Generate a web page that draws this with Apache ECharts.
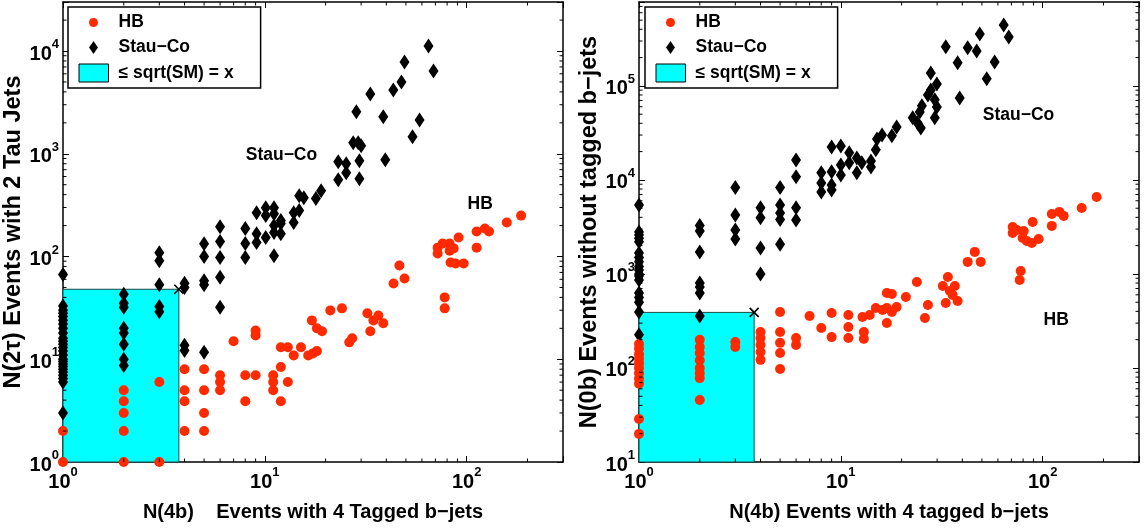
<!DOCTYPE html>
<html><head><meta charset="utf-8">
<script src="https://cdn.jsdelivr.net/npm/echarts@6/dist/echarts.min.js"></script>
<style>html,body{margin:0;padding:0;background:#fff}#c{width:1145px;height:529px}</style>
</head><body><div id="c"></div>
<script>
// ---------- data ----------
const xRange = [1, 300];
const yRangeLeft = [1, 30000];
const yRangeRight = [10, 780000];

const hbLeft = [
  [1,1],[1,2],
  [2,1],[2,2],[2,3],[2,3.9],[2,5],
  [3,1],[3,6],
  [4,2],[4,3.9],[4,5],[4,8],
  [5,2],[5,3],[5,5],[5,8],
  [6,5],[6,6],[6,7],
  [7,15],[8,3.9],[8,7],[9,7],[9,17],[9,19],
  [11,5],[11,6],[11,7],[12,3.9],[12,8.4],[12,13.1],[13,6],[13,13.1],
  [13.9,10.9],[15.1,13.1],[16.4,10.9],[17.3,11.4],[18.1,12],[17.1,23.9],[18.1,20],[19.2,18.7],
  [21.1,29.9],[24.1,31.3],[26.2,14.6],[27.1,16],[32.2,28],[33.3,18.7],[34.5,23.9],[36.5,26.7],[38.6,22.4],
  [43.4,54.7],[46.4,81.8],[49.2,61.1],
  [71.8,107],[71.8,122],[76,134],[82.3,134],[82.3,114],[86.2,120],[91.2,153],[83.2,87.5],[88.2,85.5],[96.6,85.5],
  [77.8,40],[77.8,31.3],[112,175],[112,122],[123,187],[129,175],[158,214],[186,250]
];
const stauLeft = [
  [1,67],[1,33],[1,30],[1,28],[1,26],[1,24],[1,22],[1,20],[1,18],[1,16],[1,15],[1,14],[1,13],[1,12],[1,11],
  [1,10],[1,9.5],[1,9],[1,8.5],[1,8],[1,7.5],[1,7],[1,6.5],[1,6],[1,3],
  [2,43],[2,35],[2,32],[2,20],[2,18],[2,14],[2,10],[2,8.7],
  [3,109],[3,91],[3,53],[3,32.6],[3,29],
  [4,55],[4,50],[4,13.7],[4,12.2],
  [5,133],[5,100],[5,58],[5,53],[5,11.7],
  [6,195],[6,140],[6,98],[6,63],[6,32],
  [8,187],[8,134],[8,98],
  [9.1,267],[9.1,167],[9.1,137],[10.1,299],[10.1,250],[10.1,153],[11.1,299],[11.1,261],[11.1,200],[11.1,171],[11.1,102],
  [12,224],[12,167],[12,209],[13.9,267],[13.9,214],[14.8,391],[14.8,280],[15.6,374],[17.9,366],[19,437],
  [23.1,560],[25.3,654],[29.4,572],[23.1,836],[25.3,800],[29.4,855],[39.5,875],
  [27.4,1279],[29,1279],[30,1196],[53.9,1462],[28.4,2557],[38.6,2287],[58.4,2137],
  [33.3,3826],[43.3,4180],[47.5,5000],[49.2,7816],[64.7,11190],[68.5,6397]
];
const hbRight = [
  [1,180],[1,160],[1,140],[1,125],[1,112],[1,100],[1,88],[1,77],[1,68],[1,28.6],[1,19.9],
  [2,199],[2,167],[2,144],[2,121],[2,100],[2,88],[2,78],[2,45.6],
  [3,189],[3,167],
  [4,241],[4,208],[4,176],[4,148],[4,122],
  [5,394],[5,241],[5,185],[5,144],[5,97.6],
  [6,208],[6,176],[7,357],[8,266],[9,385],[9,213],
  [10.9,366],[10.9,273],[10.9,208],
  [12.8,349],[13.9,366],[13,241],[13,204],[14.9,435],[16.1,414],[16.9,435],[16.9,628],[17.9,613],[17.9,394],
  [18.9,446],[16.9,301],[21,569],[23.8,822],[26.1,340],[27,468],[32,745],[33.9,929],[33.1,491],[34.7,659],
  [36.7,745],[35.8,598],[37.9,516],[42.5,1343],[46.1,1716],[49.3,1343],
  [71,3162],[71,2729],[74.4,2937],[80.5,2866],[79.6,2414],[83.4,2243],[88.3,2137],[89.2,3574],[95.5,2356],
  [77.8,1076],[76.9,863],[111,4345],[111,3243],[121,4570],[127,4143],[156,5036],[185,6592]
];
const stauRight = [
  [1,5420],[1,2800],[1,2600],[1,2400],[1,2200],[1,1670],[1,1500],[1,1350],[1,1200],[1,1100],[1,1000],
  [1,950],[1,860],[1,628],[1,560],[1,500],[1,394],[1,225],
  [2,3270],[2,2860],[2,1716],[2,800],[2,728],[2,628],[2,357],
  [3,8300],[3,4230],[3,2940],[3,2360],
  [4,5050],[4,3960],[4,1890],[4,1000],
  [5,8300],[5,5420],[5,4450],[5,3800],[5,2070],
  [6,16300],[6,10800],[6,5050],[6,3740],
  [8,11900],[8,9290],[8,7450],[9,22400],[9,12200],[9,8850],[9,7830],
  [10,23000],[10,14400],[10,11300],[11,19400],[11,15200],[12,17100],[12,11900],
  [12.7,15200],[14.1,15900],[14.1,13700],[14.9,20900],[15.1,27300],[16,30100],[17.9,29400],[18.9,36600],
  [22.7,45700],[24,40400],[24.9,35700],[24.6,52900],[25.2,61300],[29.2,45700],[29.9,59800],[29.2,71000],
  [27,80200],[27.9,90600],[29.9,105000],[27.9,137000],[38.8,74500],[37.9,176000],[33.1,260000],
  [42.5,254000],[47.1,235000],[48.8,357000],[52.8,119000],[57.8,180000],[64.1,445000],[67.9,332000]
];
const boxLeft = [[1, 1, 3.75, 48]];
const boxRight = [[1, 10, 3.72, 390]];
const annotLeftPos = [[8.04, 978], [101, 320]];
const annotLeftText = ['Stau−Co', 'HB'];
const annotRightPos = [[50.5, 49100], [101, 324]];
const annotRightText = ['Stau−Co', 'HB'];
const seriesNames = ['HB', 'Stau−Co', '≤ sqrt(SM) = x'];
const titles = {
  leftX: 'N(4b)    Events with 4 Tagged b−jets',
  leftY: 'N(2τ) Events with 2 Tau Jets',
  rightX: 'N(4b) Events with 4 tagged b−jets',
  rightY: 'N(0b) Events without tagged b−jets'
};

// ---------- styling ----------
const FF = "'Liberation Sans', Arial, Helvetica, sans-serif";
const RED = '#ff2a00';
const CYAN = '#00ffff';

function minorVals(range) {
  const out = [];
  for (let e = Math.floor(Math.log10(range[0])); e <= Math.ceil(Math.log10(range[1])); e++) {
    for (let m = 2; m <= 9; m++) {
      const v = m * Math.pow(10, e);
      if (v > range[0] * 1.0001 && v < range[1] * 0.9999) out.push(v);
    }
  }
  return out;
}
function minorData(xr, yr) {
  const d = [];
  minorVals(xr).forEach(v => d.push([v, yr[0], 0]));
  minorVals(yr).forEach(v => d.push([xr[0], v, 1]));
  return d;
}
function labelFmt(v) {
  const e = Math.log10(v);
  if (Math.abs(e - Math.round(e)) > 1e-6) return '';
  return '{b|10}{s|' + Math.round(e) + '}';
}
const rich = {
  b: {fontSize: 20, fontWeight: 'bold', fontFamily: FF, color: '#000', verticalAlign: 'bottom', padding: [0, 0, 0, 0]},
  s: {fontSize: 13, fontWeight: 'bold', fontFamily: FF, color: '#000', verticalAlign: 'bottom', padding: [0, 0, 13, 0]}
};
function axis(kind, gridIndex, range, position, labels, name, nameGap) {
  const a = {
    type: 'log', logBase: 10, gridIndex, min: range[0], max: range[1], position,
    axisLine: {show: true, onZero: false, lineStyle: {color: '#000', width: 1.5}},
    axisTick: {show: true, inside: true, length: 6, lineStyle: {color: '#000', width: 1}},
    splitLine: {show: false},
    axisLabel: {show: labels, formatter: labelFmt, rich, margin: 4}
  };
  if (name) {
    a.name = name; a.nameLocation = 'middle'; a.nameGap = nameGap;
    a.nameTextStyle = {fontFamily: FF, fontWeight: 'bold', fontSize: kind === 'x' ? 20 : 23.5, color: '#000'};
  }
  return a;
}
function minorSeries(xi, yi, xr, yr) {
  return {
    type: 'custom', xAxisIndex: xi, yAxisIndex: yi, silent: true, z: 5,
    data: minorData(xr, yr), encode: {x: 0, y: 1},
    renderItem: (params, api) => {
      const cs = params.coordSys, L = 3.5;
      const p = api.coord([api.value(0), api.value(1)]);
      const st = {stroke: '#000', lineWidth: 1};
      if (api.value(2) === 0) {
        return {type: 'group', children: [
          {type: 'line', shape: {x1: p[0], y1: cs.y + cs.height, x2: p[0], y2: cs.y + cs.height - L}, style: st},
          {type: 'line', shape: {x1: p[0], y1: cs.y, x2: p[0], y2: cs.y + L}, style: st}
        ]};
      }
      return {type: 'group', children: [
        {type: 'line', shape: {x1: cs.x, y1: p[1], x2: cs.x + L, y2: p[1]}, style: st},
        {type: 'line', shape: {x1: cs.x + cs.width, y1: p[1], x2: cs.x + cs.width - L, y2: p[1]}, style: st}
      ]};
    }
  };
}
function boxSeries(xi, yi, data) {
  return {
    type: 'custom', name: seriesNames[2], xAxisIndex: xi, yAxisIndex: yi, z: 1,
    itemStyle: {color: CYAN, borderColor: '#000', borderWidth: 1},
    data, encode: {x: [0, 2], y: [1, 3]},
    renderItem: (params, api) => {
      const p0 = api.coord([api.value(0), api.value(1)]);
      const p1 = api.coord([api.value(2), api.value(3)]);
      const k = 4.5, st = {stroke: '#000', lineWidth: 1.6};
      return {type: 'group', children: [
        {type: 'rect', shape: {x: p0[0], y: p1[1], width: p1[0] - p0[0], height: p0[1] - p1[1]},
         style: {fill: CYAN, stroke: '#1a4a4a', lineWidth: 1}},
        {type: 'line', shape: {x1: p1[0] - k, y1: p1[1] - k, x2: p1[0] + k, y2: p1[1] + k}, style: st},
        {type: 'line', shape: {x1: p1[0] - k, y1: p1[1] + k, x2: p1[0] + k, y2: p1[1] - k}, style: st}
      ]};
    }
  };
}
function scatter(name, xi, yi, data, isHB) {
  return {
    type: 'scatter', name, xAxisIndex: xi, yAxisIndex: yi, data,
    symbol: isHB ? 'circle' : 'diamond', symbolSize: isHB ? 10 : [10, 15], z: isHB ? 4 : 3,
    itemStyle: {color: isHB ? RED : '#000', opacity: 1}, emphasis: {disabled: true}
  };
}
const iconCircle = 'path://M0,0M35,19M19.5,9.5A4.5,4.5,0,1,1,10.5,9.5A4.5,4.5,0,1,1,19.5,9.5Z';
const iconDiamond = 'path://M0,0M35,19M15,3L19.5,9.5L15,16L10.5,9.5Z';
const iconRect = 'path://M0,0M35,19M0.5,0.5L30,0.5L30,18.5L0.5,18.5Z';
function legend(left) {
  return {
    left, top: 7, orient: 'vertical', selectedMode: false,
    itemWidth: 35, itemHeight: 19, itemGap: 6, padding: [6, 27, 5, 10],
    backgroundColor: '#fff', borderColor: '#000', borderWidth: 1.5,
    textStyle: {fontFamily: FF, fontWeight: 'bold', fontSize: 17.5, color: '#000'},
    data: [
      {name: seriesNames[0], icon: iconCircle, itemStyle: {color: RED, borderWidth: 0}},
      {name: seriesNames[1], icon: iconDiamond, itemStyle: {color: '#000', borderWidth: 0}},
      {name: seriesNames[2], icon: iconRect, itemStyle: {color: CYAN, borderColor: '#000', borderWidth: 1}}
    ]
  };
}

const option = {
  backgroundColor: '#fff',
  animation: false,
  grid: [
    {left: 63, top: 2, width: 500, height: 460},
    {left: 639, top: 2, width: 500, height: 460}
  ],
  xAxis: [
    axis('x', 0, xRange, 'bottom', true, titles.leftX, 40),
    axis('x', 0, xRange, 'top', false),
    axis('x', 1, xRange, 'bottom', true, titles.rightX, 40),
    axis('x', 1, xRange, 'top', false)
  ],
  yAxis: [
    axis('y', 0, yRangeLeft, 'left', true, titles.leftY, 34),
    axis('y', 0, yRangeLeft, 'right', false),
    axis('y', 1, yRangeRight, 'left', true, titles.rightY, 34),
    axis('y', 1, yRangeRight, 'right', false)
  ],
  legend: [legend(68), legend(645)],
  series: [
    boxSeries(0, 0, boxLeft),
    scatter(seriesNames[1], 0, 0, stauLeft, false),
    scatter(seriesNames[0], 0, 0, hbLeft, true),
    minorSeries(0, 0, xRange, yRangeLeft),
    boxSeries(2, 2, boxRight),
    scatter(seriesNames[1], 2, 2, stauRight, false),
    scatter(seriesNames[0], 2, 2, hbRight, true),
    minorSeries(2, 2, xRange, yRangeRight)
  ]
};
const chart = echarts.init(document.getElementById('c'), null, {renderer: 'canvas'});
chart.setOption(option);

// annotation texts placed through the axes' own scales
function annotGraphics(xi, yi, pos, texts) {
  return pos.map((p, i) => {
    const px = chart.convertToPixel({xAxisIndex: xi, yAxisIndex: yi}, p);
    return {type: 'text', x: px[0], y: px[1], z: 10, silent: true,
      style: {text: texts[i], fill: '#000', font: 'bold 17.5px ' + FF, textAlign: 'left', textVerticalAlign: 'middle'}};
  });
}
chart.setOption({graphic: annotGraphics(0, 0, annotLeftPos, annotLeftText).concat(annotGraphics(2, 2, annotRightPos, annotRightText))});
</script></body></html>
